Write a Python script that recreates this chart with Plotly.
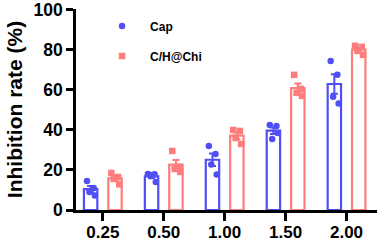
import numpy as np
import plotly.graph_objects as go

concentrations = ["0.25", "0.50", "1.00", "1.50", "2.00"]
cap_points = [
    [14.5, 11.0, 9.0, 7.2],
    [18.0, 17.8, 17.5, 14.0],
    [32.0, 28.0, 22.7, 17.7],
    [42.4, 42.0, 35.5, 38.5],
    [74.4, 67.5, 56.6, 53.2],
]
chi_points = [
    [18.5, 16.5, 15.5, 12.8],
    [29.5, 21.5, 20.5, 19.0],
    [40.0, 39.5, 36.0, 33.0],
    [67.5, 60.5, 58.5, 57.0],
    [82.0, 81.5, 79.5, 77.5],
]
series_names = ["Cap", "C/H@Chi"]
y_ticks = [0, 20, 40, 60, 80, 100]

colors = ["#4f4ff5", "#ff7c7c"]
symbols = ["circle", "square"]
offsets = [-0.2, 0.2]
jitter = [-0.06, 0.05, -0.02, 0.07]

FONT = "Arial, Liberation Sans, sans-serif"
fig = go.Figure()
base = np.arange(len(concentrations))

for k, pts in enumerate([cap_points, chi_points]):
    arr = np.array(pts)
    means = arr.mean(axis=1)
    sems = arr.std(axis=1, ddof=1) / np.sqrt(arr.shape[1])
    fig.add_trace(go.Bar(
        x=base + offsets[k], y=means, width=0.22,
        marker=dict(color="rgba(255,255,255,0)", line=dict(color=colors[k], width=2.2)),
        error_y=dict(type="data", array=sems, color=colors[k], thickness=2, width=3.5),
        showlegend=False, hoverinfo="skip",
    ))
    xs, ys = [], []
    for i, row in enumerate(pts):
        for j, v in enumerate(row):
            xs.append(base[i] + offsets[k] + jitter[j])
            ys.append(v)
    fig.add_trace(go.Scatter(
        x=xs, y=ys, mode="markers", name=series_names[k], legendgroup=series_names[k],
        marker=dict(symbol=symbols[k], color=colors[k], size=6.5),
    ))

fig.update_layout(
    width=378, height=241,
    margin=dict(l=76, r=1, t=9, b=31, autoexpand=False),
    plot_bgcolor="white", paper_bgcolor="white",
    barmode="overlay",
    font=dict(family=FONT, color="black", size=13, weight="bold"),
    legend=dict(x=0.06, y=0.988, xanchor="left", yanchor="top", bgcolor="rgba(0,0,0,0)",
                font=dict(size=12, family=FONT, weight="bold"), tracegroupgap=11,
                traceorder="grouped", itemwidth=46),
    xaxis=dict(range=[-0.44, 4.5], tickvals=list(base), ticktext=concentrations,
               automargin=False,
               showgrid=False, zeroline=False, showline=True, linecolor="black", linewidth=2.5,
               ticks="outside", ticklen=8, tickwidth=2.5, tickcolor="black",
               ticklabelstandoff=-3, ticklabeloverflow="allow",
               tickfont=dict(size=17, family=FONT, weight="bold")),
    yaxis=dict(range=[0, 100.4], tickvals=y_ticks, showgrid=False, zeroline=False,
               automargin=False,
               showline=True, linecolor="black", linewidth=2.5,
               ticks="outside", ticklen=7, tickwidth=2.5, tickcolor="black",
               ticklabeloverflow="allow",
               tickfont=dict(size=17.5, family=FONT, weight="bold"),
               title=dict(text="Inhibition rate (%)", standoff=6,
                          font=dict(size=21, family=FONT, weight="bold"))),
)
fig.write_html("out.html", config={"displayModeBar": False},
               post_script="document.body.style.margin='0';")
